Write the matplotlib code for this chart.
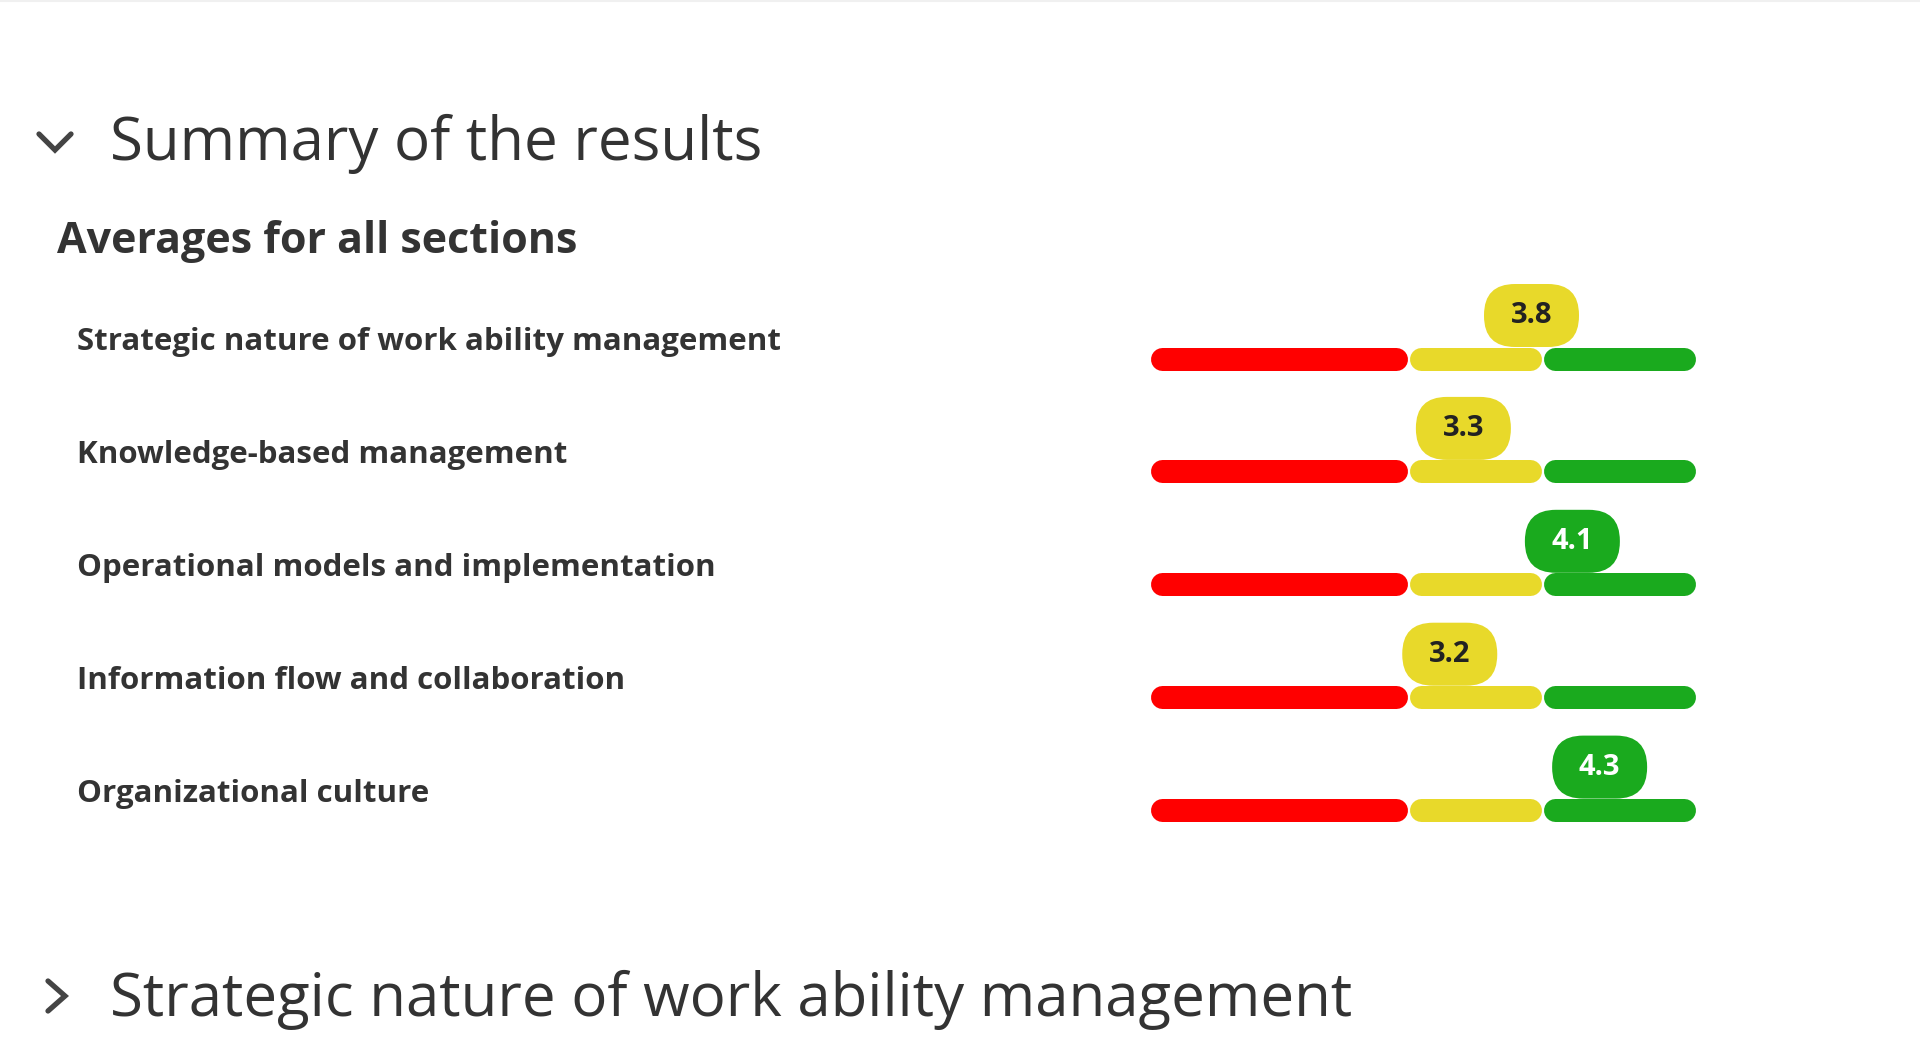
import matplotlib
matplotlib.use("Agg")
import matplotlib.pyplot as plt
import matplotlib.transforms as mtransforms
from matplotlib.patches import FancyBboxPatch
from matplotlib.lines import Line2D

plt.rcParams['font.family'] = ['Open Sans', 'DejaVu Sans']

# Data
sections = [
    'Strategic nature of work ability management',
    'Knowledge-based management',
    'Operational models and implementation',
    'Information flow and collaboration',
    'Organizational culture',
]
averages = [3.8, 3.3, 4.1, 3.2, 4.3]

scale_min, scale_max = 1.0, 5.0
zone_edges = [1.0, 2.9, 3.88, 5.0]

# Colors
red_color = '#ff0000'
yellow_color = '#e8d92a'
green_color = '#1aaa1e'
text_dark = '#333333'
zone_colors = [red_color, yellow_color, green_color]
value_text_colors = ['#222222', '#222222', '#ffffff']

W, H, DPI = 1920, 1057, 100


def fy(y):
    """pixel row (from top) -> figure fraction"""
    return 1 - y / H


fig = plt.figure(figsize=(W / DPI, H / DPI), dpi=DPI)
fig.patch.set_facecolor('white')

# faint line at the very top of the page
fig.add_artist(Line2D([0, 1], [fy(1), fy(1)], color='#f0f0f0', lw=1.5))

# headings
fig.text(110.5 / W, fy(160), 'Summary of the results', fontsize=43.2,
         color=text_dark, va='baseline', ha='left')
fig.text(57 / W, fy(253), 'Averages for all sections', fontsize=31,
         fontweight='bold', color=text_dark, va='baseline', ha='left')
fig.text(110.5 / W, fy(1016), 'Strategic nature of work ability management',
         fontsize=43.2, color=text_dark, va='baseline', ha='left')

# chevrons (open / closed)
fig.add_artist(Line2D([39 / W, 55 / W, 71 / W], [fy(134), fy(150), fy(134)],
                      color='#444444', lw=3.8, solid_capstyle='round',
                      solid_joinstyle='miter'))
fig.add_artist(Line2D([48 / W, 65 / W, 48 / W], [fy(981), fy(996), fy(1011)],
                      color='#444444', lw=3.8, solid_capstyle='round',
                      solid_joinstyle='miter'))

# bar area
n = len(sections)
row_first, row_step = 358.5, 112.9
ax_top = row_first - row_step / 2
ax_h = row_step * n
bar_left, bar_right = 1150, 1695
ax = fig.add_axes([bar_left / W, fy(ax_top + ax_h),
                   (bar_right - bar_left) / W, ax_h / H])
ax.set_xlim(scale_min, scale_max)
ax.set_ylim(n - 0.5, -0.5)
ax.axis('off')

bar_px = 23
units_per_px = (scale_max - scale_min) / (bar_right - bar_left)
cap = bar_px / 2 * units_per_px
gap = 1 * units_per_px

label_trans = mtransforms.offset_copy(
    mtransforms.blended_transform_factory(fig.transFigure, ax.transData),
    fig=fig, x=0, y=8.5, units='dots')

for i, (name, val) in enumerate(zip(sections, averages)):
    # section label
    ax.text(77 / W, i, name, transform=label_trans, fontsize=22.5,
            fontweight='bold', color=text_dark, va='baseline', ha='left',
            clip_on=False)

    # colored zones with rounded ends
    for k in range(3):
        x0 = zone_edges[k] + cap + (gap if k > 0 else 0)
        x1 = zone_edges[k + 1] - cap - (gap if k < 2 else 0)
        ax.plot([x0, x1], [i, i], color=zone_colors[k], lw=bar_px * 72 / DPI,
                solid_capstyle='round', zorder=2, clip_on=False)

    # value bubble
    zone = sum(val >= e for e in zone_edges[1:3])
    bubble_trans = fig.dpi_scale_trans + mtransforms.ScaledTranslation(
        val, i, ax.transData)
    bw, bh = 0.95, 0.63
    bubble = FancyBboxPatch((-bw / 2, 0.115), bw, bh,
                            boxstyle='round,pad=0,rounding_size=0.31',
                            transform=bubble_trans, fc=zone_colors[zone],
                            ec='none', zorder=3, clip_on=False)
    ax.add_patch(bubble)
    val_trans = mtransforms.offset_copy(ax.transData, fig=fig, x=0, y=35.5,
                                        units='dots')
    ax.text(val, i, f'{val:.1f}', transform=val_trans, fontsize=21,
            fontweight='bold', color=value_text_colors[zone],
            ha='center', va='baseline', zorder=4, clip_on=False)

fig.savefig('out.png', dpi=DPI, facecolor='white')
